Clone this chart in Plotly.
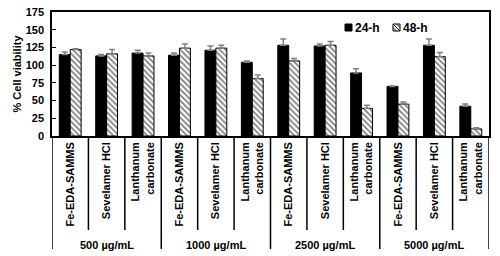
import plotly.graph_objects as go

groups = ["500 µg/mL", "1000 µg/mL", "2500 µg/mL", "5000 µg/mL"]
materials = ["Fe-EDA-SAMMS", "Sevelamer HCl", "Lanthanum<br>carbonate"]
v24 = [115, 113, 117, 114, 121, 104, 128, 127, 89, 70, 128, 42]
e24 = [3.5, 2, 4, 3, 6, 2, 9, 3, 6, 0.5, 9, 3]
v48 = [122, 116, 113, 124, 124, 81, 106, 128, 39, 45, 112, 10]
e48 = [1, 6, 4, 6, 4, 5, 3.5, 5.5, 4.5, 3, 6, 1.5]
yticks = [0, 25, 50, 75, 100, 125, 150, 175]
series_names = ["24-h", "48-h"]

keys = [f"{g}|{m}" for g in groups for m in materials]
labels = [m for g in groups for m in materials]

FONT = "Liberation Sans, Arial, sans-serif"
W, H = 500, 256
ML, MR, MT, MB = 52, 11, 12, 120
PW, PH = W - ML - MR, H - MT - MB

def px_x(p):
    return (p - ML) / PW

def px_y(p):
    return (H - MB - p) / PH

fig = go.Figure()
fig.add_trace(go.Bar(
    name=series_names[0], x=keys, y=v24, showlegend=False,
    marker=dict(color="black", line=dict(color="black", width=1)),
    error_y=dict(type="data", array=e24, arrayminus=[0]*len(e24), symmetric=False,
                 color="#808080", thickness=1.5, width=3),
))
fig.add_trace(go.Bar(
    name=series_names[1], x=keys, y=v48, showlegend=False,
    marker=dict(color="white", line=dict(color="black", width=1),
                pattern=dict(shape="\\", fgcolor="black", bgcolor="white", size=4, solidity=0.45)),
    error_y=dict(type="data", array=e48, arrayminus=[0]*len(e48), symmetric=False,
                 color="#808080", thickness=1.5, width=3),
))

shapes = []
n = len(keys)
for i in range(n + 1):
    xpos = i - 0.5
    is_group = (i % len(materials) == 0)
    shapes.append(dict(type="line", xref="x", yref="paper", x0=xpos, x1=xpos,
                       y0=0, y1=px_y(249) if is_group else px_y(230),
                       line=dict(color="black", width=1.5)))

annotations = []
for gi, g in enumerate(groups):
    annotations.append(dict(xref="x", yref="paper", x=gi * 3 + 1, y=px_y(245),
                            text=f"<b>{g}</b>", showarrow=False,
                            font=dict(family=FONT, size=11, color="black"),
                            xanchor="center", yanchor="middle"))

# custom legend keys
shapes.append(dict(type="rect", xref="paper", yref="paper",
                   x0=px_x(345), x1=px_x(352), y0=px_y(31), y1=px_y(24),
                   fillcolor="black", line=dict(color="black", width=1)))
shapes.append(dict(type="rect", xref="paper", yref="paper",
                   x0=px_x(393), x1=px_x(400), y0=px_y(31), y1=px_y(24),
                   fillcolor="white", line=dict(color="black", width=1)))
for (a, b, c, d) in [(393, 24, 400, 31), (393, 27.5, 396.5, 31), (396.5, 24, 400, 27.5)]:
    shapes.append(dict(type="line", xref="paper", yref="paper",
                       x0=px_x(a), y0=px_y(b), x1=px_x(c), y1=px_y(d),
                       line=dict(color="black", width=1)))
annotations.append(dict(xref="paper", yref="paper", x=px_x(353), y=px_y(27.5),
                        text=f"<b>{series_names[0]}</b>", showarrow=False,
                        font=dict(family=FONT, size=12, color="black"),
                        xanchor="left", yanchor="middle"))
annotations.append(dict(xref="paper", yref="paper", x=px_x(401), y=px_y(27.5),
                        text=f"<b>{series_names[1]}</b>", showarrow=False,
                        font=dict(family=FONT, size=12, color="black"),
                        xanchor="left", yanchor="middle"))

fig.update_layout(
    width=W, height=H,
    margin=dict(l=ML, r=MR, t=MT, b=MB, autoexpand=False),
    paper_bgcolor="white", plot_bgcolor="white",
    barmode="group", bargap=0.4, bargroupgap=0,
    font=dict(family=FONT, size=11, color="black"),
    showlegend=False,
    shapes=shapes,
    annotations=annotations,
)
fig.update_xaxes(
    type="category", tickmode="array", tickvals=keys,
    ticktext=[f"<b>{l}</b>" for l in labels],
    tickangle=-90, ticks="", showline=True, linecolor="black", linewidth=1.5,
    mirror=True, showgrid=False, zeroline=False, automargin=False,
    tickfont=dict(family=FONT, size=11, color="black"),
    range=[-0.5, n - 0.5],
)
fig.update_yaxes(
    range=[0, 175], tickmode="array", tickvals=yticks,
    ticktext=[f"<b>{t}</b>" for t in yticks],
    ticks="inside", ticklen=4, tickcolor="black", tickwidth=1,
    ticklabelstandoff=4,
    showline=True, linecolor="black", linewidth=1.5, mirror=True,
    showgrid=False, zeroline=False, automargin=False,
    tickfont=dict(family=FONT, size=11, color="black"),
    title=dict(text="<b>% Cell viability</b>", font=dict(family=FONT, size=11, color="black"), standoff=2),
)

fig.write_html("out.html", config={"displayModeBar": False},
               post_script="document.body.style.margin='0';document.body.style.overflow='hidden';")
